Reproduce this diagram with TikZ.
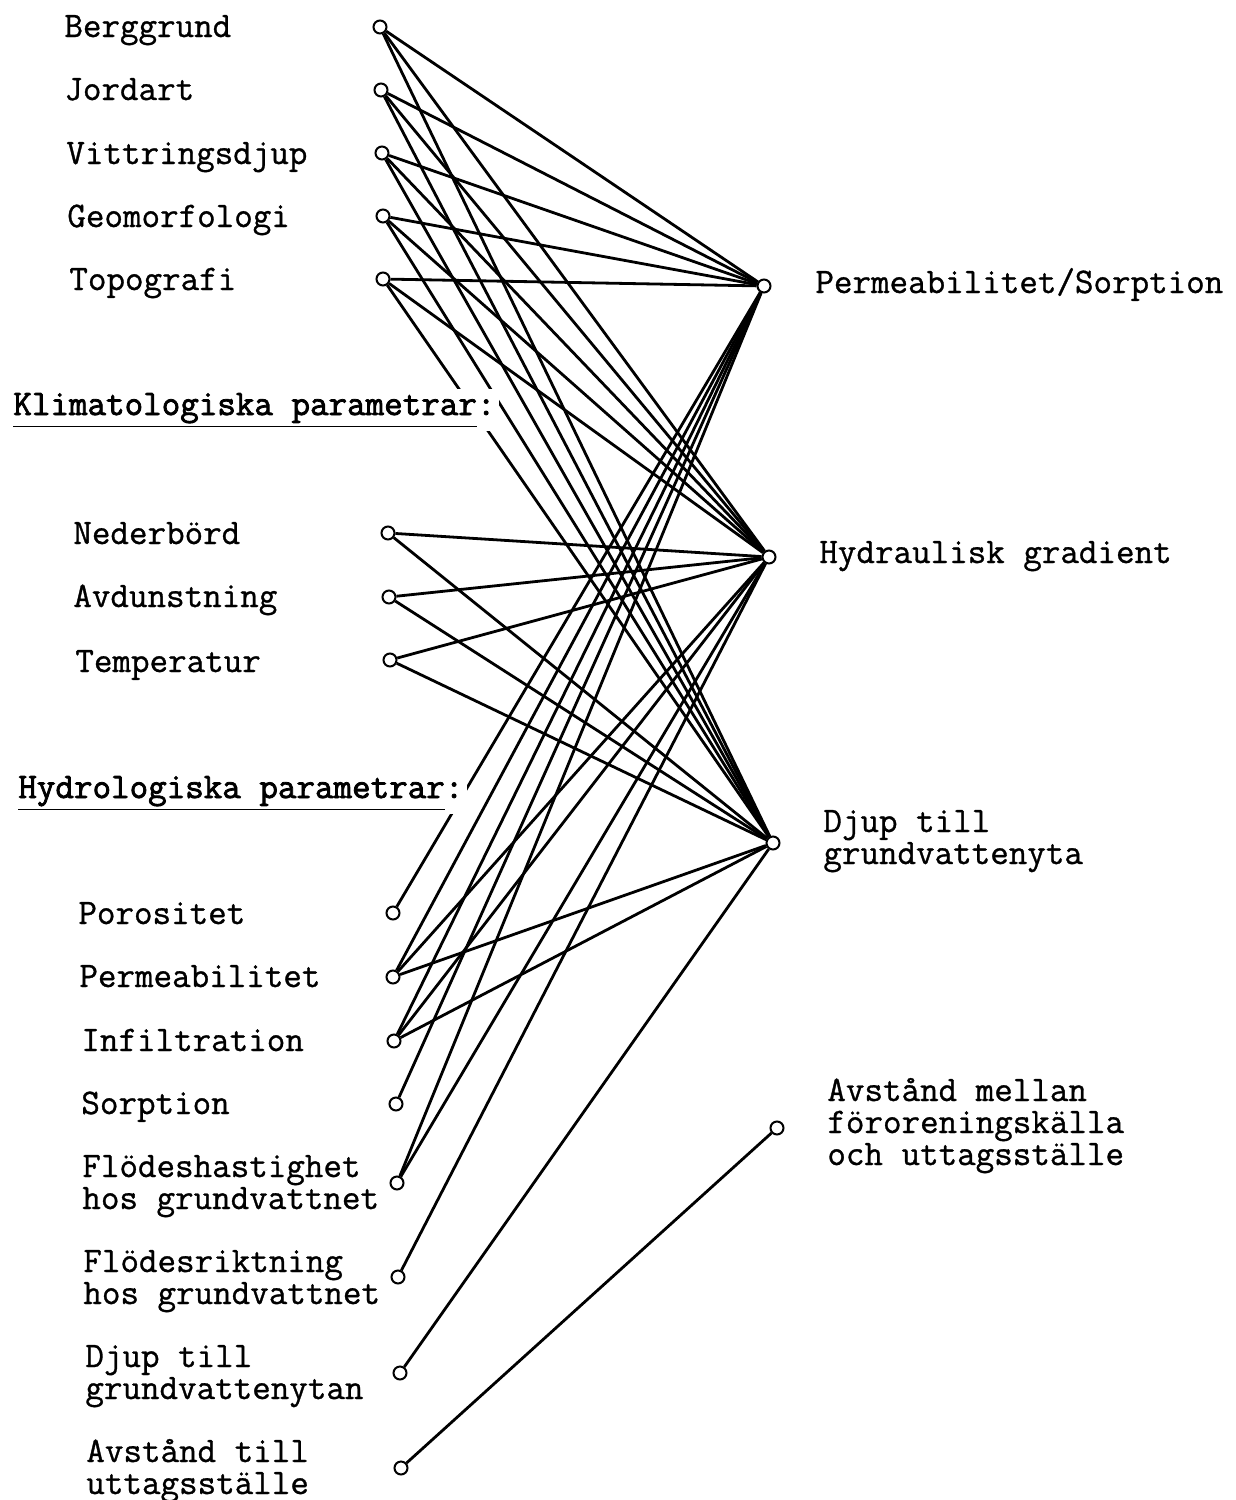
\documentclass[tikz,border=0pt]{standalone}
\usepackage{fontspec}
\usepackage{tikz}
\newfontfamily\typfont[FakeBold=0.9]{Latin Modern Mono}
\newfontfamily\typheadfont[FakeBold=2.2]{Latin Modern Mono}

\tikzstyle{lbl}=[anchor=base west,inner sep=0pt,align=left,font=\typfont\fontsize{18}{16}\selectfont]
\tikzstyle{head}=[anchor=base west,inner sep=2pt,fill=white,font=\typheadfont\fontsize{18}{16}\selectfont]

\begin{document}
\begin{tikzpicture}[line width=1.4pt, x=.5pt, y=-.5pt]
\useasboundingbox (0,0) rectangle (1236,1500);
\begin{scope}[shape=circle,minimum size=6.5pt,inner sep=0pt]
\tikzstyle{every node}=[draw,fill=white,line width=1pt] %%
\node (g1) at (380,27)  {}; %%
\node (g2) at (381,90)  {}; %%
\node (g3) at (382,153) {}; %%
\node (g4) at (383,216) {}; %%
\node (g5) at (383,279) {}; %%
\node (k1) at (388,533) {}; %%
\node (k2) at (389,597) {}; %%
\node (k3) at (390,660) {}; %%
\node (h1) at (393,913) {}; %%
\node (h2) at (393,977) {}; %%
\node (h3) at (394,1041) {}; %%
\node (h4) at (396,1104) {}; %%
\node (h5) at (397,1183) {}; %%
\node (h6) at (398,1277) {}; %%
\node (h7) at (400,1373) {}; %%
\node (h8) at (401,1468) {}; %%
\node (p1) at (764,286) {}; %%
\node (p2) at (769,557) {}; %%
\node (p3) at (773,843) {}; %%
\node (p4) at (777,1128) {};
\end{scope}
%% labels, left side (multi-line: last baseline)
\node[lbl] (tg1) at (63,37)  {Berggrund}; %%
\node[lbl] (tg2) at (63,100) {Jordart}; %%
\node[lbl] (tg3) at (65,164) {Vittringsdjup}; %%
\node[lbl] (tg4) at (66,227) {Geomorfologi}; %%
\node[lbl] (tg5) at (68,290) {Topografi}; %%
\node[lbl] (tk1) at (72,544) {Nederbörd}; %%
\node[lbl] (tk2) at (72,607) {Avdunstning}; %%
\node[lbl] (tk3) at (74,672) {Temperatur}; %%
\node[lbl] (th1) at (77,924) {Porositet}; %%
\node[lbl] (th2) at (78,987) {Permeabilitet}; %%
\node[lbl] (th3) at (80,1051) {Infiltration}; %%
\node[lbl] (th4) at (80,1114) {Sorption}; %%
\node[lbl] (th5) at (81,1209) {Flödeshastighet\\hos grundvattnet}; %%
\node[lbl] (th6) at (82,1304) {Flödesriktning\\hos grundvattnet}; %%
\node[lbl] (th7) at (84,1399) {Djup till\\grundvattenytan}; %%
\node[lbl] (th8) at (85,1494) {Avstånd till\\uttagsställe}; %%
%% labels, right side
\node[lbl] (tp1) at (814,293)  {Permeabilitet/Sorption}; %%
\node[lbl] (tp2) at (818,563)  {Hydraulisk gradient}; %%
\node[lbl] (tp3) at (822,864)  {Djup till\\grundvattenyta}; %%
\node[lbl] (tp4) at (826,1165) {Avstånd mellan\\föroreningskälla\\och uttagsställe}; %%
%% geologiska
\draw (g1)--(p1); \draw (g1)--(p2); \draw (g1)--(p3); %%
\draw (g2)--(p1); \draw (g2)--(p2); \draw (g2)--(p3); %%
\draw (g3)--(p1); \draw (g3)--(p2); \draw (g3)--(p3); %%
\draw (g4)--(p1); \draw (g4)--(p2); \draw (g4)--(p3); %%
\draw (g5)--(p1); \draw (g5)--(p2); \draw (g5)--(p3); %%
%% klimatologiska
\draw (k1)--(p2); \draw (k1)--(p3); %%
\draw (k2)--(p2); \draw (k2)--(p3); %%
\draw (k3)--(p2); \draw (k3)--(p3); %%
%% hydrologiska
\draw (h1)--(p1); %%
\draw (h2)--(p1); \draw (h2)--(p2); \draw (h2)--(p3); %%
\draw (h3)--(p1); \draw (h3)--(p2); \draw (h3)--(p3); %%
\draw (h4)--(p1); %%
\draw (h5)--(p1); \draw (h5)--(p2); %%
\draw (h6)--(p2); %%
\draw (h7)--(p3); %%
\draw (h8)--(p4); %%
%\draw[step=50,color=gray] (0,0) grid (1236,1500);%%
\node[head] (kl) at (8,415) {\underline{Klimatologiska parametrar}:}; %%
\node[head] (hy) at (13,798) {\underline{Hydrologiska parametrar}:}; %%
\end{tikzpicture}
\end{document}
